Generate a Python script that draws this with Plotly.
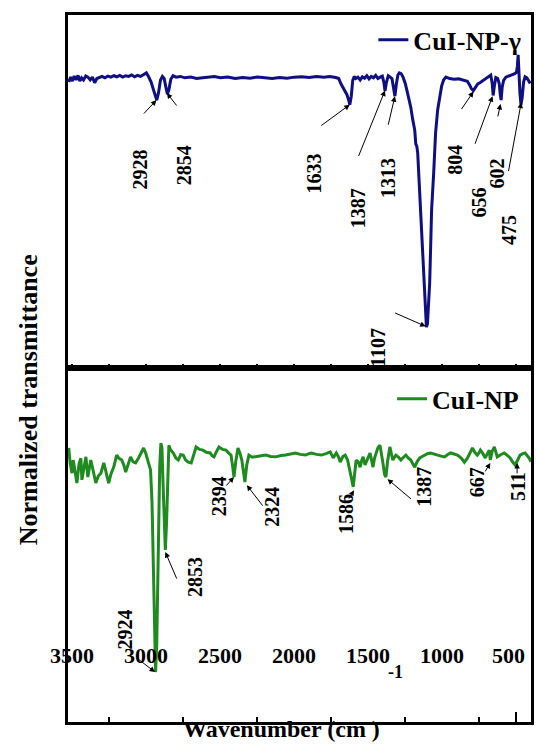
import plotly.graph_objects as go

# ---------------- data ----------------
top_wn = [3525, 3512, 3500, 3488, 3475, 3462, 3450, 3438, 3425, 3410, 3395, 3380, 3365, 3350, 3335, 3320,
          3300, 3280, 3260, 3240, 3220, 3200, 3180, 3160, 3140, 3120, 3100, 3080, 3060, 3040, 3020, 3000,
          2985, 2968, 2950, 2938, 2930, 2918, 2905, 2892, 2880, 2868, 2858, 2848, 2835, 2820, 2800, 2770,
          2740, 2700, 2660, 2620, 2580, 2540, 2500, 2450, 2400, 2350, 2300, 2250, 2200, 2150, 2100, 2050,
          2000, 1950, 1900, 1850, 1800, 1760, 1720, 1700, 1685, 1670, 1656, 1645, 1633, 1625, 1615, 1605,
          1595, 1585, 1570, 1555, 1540, 1525, 1510, 1495, 1480, 1465, 1450, 1435, 1420, 1405, 1395, 1387,
          1378, 1365, 1352, 1340, 1330, 1320, 1310, 1300, 1290, 1278, 1265, 1250, 1238, 1226, 1213, 1200,
          1186, 1179, 1172, 1166, 1159, 1145, 1139, 1132, 1125, 1119, 1113, 1107, 1100, 1092, 1085, 1078,
          1072, 1058, 1045, 1031, 1018, 1004, 991, 975, 950, 920, 890, 860, 830, 815, 804, 790,
          775, 760, 745, 730, 715, 700, 685, 672, 662, 656, 648, 638, 625, 615, 608, 602,
          595, 585, 570, 555, 540, 525, 510, 498, 492, 487, 482, 475, 468, 460, 450, 440,
          428, 415, 405]
top_T = [81.0, 82.4, 81.3, 82.7, 81.6, 82.9, 81.3, 82.2, 81.6, 82.7, 82.4, 81.6, 82.4, 80.8, 82.0, 82.2,
         82.6, 82.2, 82.7, 82.4, 82.8, 82.5, 82.9, 82.4, 82.8, 82.6, 83.0, 82.5, 82.9, 82.6, 83.1, 83.6,
         82.5, 81.0, 78.5, 76.5, 75.9, 78.0, 81.5, 82.6, 82.0, 79.5, 77.6, 78.8, 81.8, 82.8, 82.4, 82.6,
         82.2, 82.4, 82.0, 82.2, 82.5, 82.6, 82.2, 82.4, 82.0, 82.3, 82.1, 82.4, 82.2, 82.0, 82.3, 82.1,
         82.4, 82.5, 82.3, 82.6, 82.4, 82.6, 82.3, 82.0, 80.5, 79.4, 78.6, 77.5, 76.0, 74.6, 77.0, 81.5,
         82.6, 82.0, 82.4, 81.6, 82.5, 82.1, 82.8, 81.9, 82.6, 82.2, 82.9, 82.0, 82.4, 82.7, 81.0, 78.5,
         80.8, 82.8, 82.4, 82.0, 79.5, 77.0, 80.5, 83.0, 83.6, 83.4, 82.4, 80.6, 78.5, 76.5, 73.9, 70.5,
         67.4, 63.5, 62.8, 61.0, 55.0, 45.6, 39.5, 32.6, 26.3, 19.5, 15.0, 11.6, 12.5, 17.8, 24.0, 35.0,
         44.8, 55.2, 66.6, 73.1, 76.8, 79.9, 81.6, 82.4, 82.0, 81.8, 81.9, 81.5, 81.2, 80.2, 79.2, 78.6,
         79.5, 80.5, 80.8, 81.3, 81.7, 82.1, 82.6, 83.0, 80.5, 77.2, 79.8, 82.3, 82.0, 80.6, 77.5, 75.9,
         79.5, 81.5, 82.4, 82.6, 82.9, 83.1, 83.4, 83.8, 85.5, 88.7, 82.4, 78.0, 74.6, 76.5, 81.0, 82.5,
         82.2, 81.4, 80.6]

bot_wn = [3525, 3515, 3503, 3495, 3485, 3470, 3455, 3443, 3436, 3422, 3409, 3396, 3385, 3376, 3360, 3342,
          3325, 3308, 3288, 3270, 3255, 3240, 3221, 3201, 3185, 3167, 3152, 3140, 3125, 3107, 3090, 3073,
          3053, 3035, 3019, 3005, 2986, 2972, 2962, 2952, 2944, 2938, 2930, 2920, 2910, 2902, 2895, 2888,
          2880, 2872, 2864, 2856, 2848, 2838, 2818, 2800, 2784, 2768, 2751, 2735, 2717, 2697, 2680, 2664,
          2640, 2617, 2595, 2569, 2555, 2543, 2525, 2509, 2485, 2462, 2445, 2428, 2418, 2408, 2396, 2381,
          2368, 2355, 2345, 2334, 2322, 2307, 2285, 2260, 2225, 2193, 2160, 2126, 2090, 2059, 2025, 1992,
          1960, 1925, 1900, 1884, 1850, 1817, 1785, 1757, 1737, 1716, 1700, 1690, 1672, 1656, 1640, 1625,
          1612, 1602, 1592, 1582, 1568, 1555, 1545, 1535, 1522, 1505, 1488, 1478, 1468, 1458, 1448, 1435,
          1421, 1410, 1401, 1390, 1381, 1370, 1354, 1345, 1334, 1320, 1313, 1295, 1280, 1262, 1246, 1230,
          1213, 1200, 1186, 1170, 1152, 1135, 1119, 1100, 1078, 1055, 1031, 1008, 984, 965, 944, 920,
          897, 870, 850, 830, 812, 796, 780, 763, 752, 742, 725, 709, 695, 682, 675, 662,
          648, 638, 628, 605, 581, 560, 541, 525, 507, 490, 474, 455, 440, 425, 413, 400]
bot_T = [77.4, 73.0, 70.3, 74.0, 71.5, 67.5, 73.0, 74.5, 68.4, 72.5, 74.9, 69.2, 72.0, 74.0, 71.0, 67.5,
         69.5, 70.3, 73.2, 70.5, 67.5, 70.0, 72.0, 75.4, 74.5, 74.0, 72.5, 70.6, 72.8, 74.9, 73.5, 73.2,
         74.6, 76.0, 77.4, 76.0, 73.4, 71.2, 62.0, 38.0, 18.0, 14.1, 22.0, 52.0, 72.0, 78.8, 77.5, 68.0,
         55.0, 48.6, 56.0, 70.0, 78.2, 77.0, 76.0, 74.5, 74.0, 75.5, 75.4, 74.0, 73.4, 73.2, 75.5, 77.7,
         77.0, 76.8, 76.2, 76.0, 75.2, 74.9, 76.5, 77.7, 77.0, 76.8, 76.0, 75.4, 72.5, 69.2, 73.5, 77.4,
         76.0, 74.0, 71.0, 67.8, 72.5, 75.4, 74.8, 74.9, 75.2, 75.4, 75.0, 74.9, 75.3, 75.4, 75.7, 76.0,
         75.6, 75.4, 75.8, 76.0, 75.6, 75.4, 75.8, 76.3, 74.6, 76.0, 74.8, 73.4, 75.0, 75.4, 74.0, 71.5,
         68.5, 66.4, 70.0, 74.0, 73.5, 72.0, 73.8, 74.9, 72.6, 74.5, 76.0, 74.0, 72.0, 74.5, 76.0, 77.5,
         78.2, 76.0, 73.2, 70.0, 69.2, 73.5, 77.7, 76.0, 74.0, 75.0, 75.4, 74.8, 74.0, 74.8, 75.4, 74.6,
         74.0, 73.0, 72.0, 73.5, 74.6, 75.0, 75.4, 75.8, 76.0, 75.6, 75.4, 75.1, 74.9, 75.5, 76.0, 75.7,
         75.4, 74.5, 73.4, 74.5, 76.0, 77.4, 76.2, 75.4, 76.0, 76.8, 75.8, 74.6, 75.8, 76.8, 74.0, 76.5,
         77.7, 76.5, 74.9, 75.5, 76.0, 75.3, 74.6, 73.5, 72.6, 74.0, 75.4, 75.8, 76.0, 75.2, 74.6, 73.5]

# peak labels: text, arrow head (wavenumber, value), arrow tail offset (px), label centre (wavenumber, value)
top_labels = ["2928", "2854", "1633", "1387", "1313", "1107", "804", "656", "602", "475"]
top_head_wn = [2932, 2862, 1625, 1387, 1320, 1112, 789, 660, 606, 466]
top_head_T = [75.9, 77.9, 74.6, 78.6, 77.0, 11.8, 78.3, 77.0, 74.8, 75.2]
top_tail_dx = [-14, 11, -30, -27, -7, -32, -13, -18, -3, -13]
top_tail_dy = [15, 14, 22, 67, 30, -14, 19, 49, 14, 70]
top_lab_wn = [3046, 2744, 1864, 1569, 1367, 1434, 910, 749, 628, 548]
top_lab_T = [56.1, 57.5, 55.2, 45.3, 53.8, 5.7, 58.9, 47.0, 55.2, 39.1]

bot_labels = ["2924", "2853", "2394", "2324", "1586", "1387", "667", "511"]
bot_head_wn = [2942, 2872, 2408, 2321, 1596, 1370, 675, 494]
bot_head_T = [14.1, 48.0, 69.2, 66.9, 65.5, 68.6, 73.2, 73.2]
bot_tail_dx = [-18, 12, -9, 17, -6, 25, -6, 0]
bot_tail_dy = [-14, 28, 10, 22, 10, 21, 10, 12]
bot_lab_wn = [3147, 2670, 2509, 2153, 1649, 1125, 763, 487]
bot_lab_T = [26.0, 41.0, 63.8, 60.7, 58.8, 66.4, 67.8, 66.4]

tick_vals = [3500, 3000, 2500, 2000, 1500, 1000, 500]
tick_text = ["3500", "3000", "2500", "2000", "1500", "1000", "500"]

# ---------------- figure ----------------
FONT = "Liberation Serif"
NAVY = "#0f0f80"
GREEN = "#1f8a1f"
XR = [3530, 400]

fig = go.Figure()
fig.add_trace(go.Scatter(x=top_wn, y=top_T, mode="lines", name="CuI-NP-γ",
                         line=dict(color=NAVY, width=3), xaxis="x", yaxis="y", legend="legend"))
fig.add_trace(go.Scatter(x=bot_wn, y=bot_T, mode="lines", name="CuI-NP",
                         line=dict(color=GREEN, width=3), xaxis="x2", yaxis="y2", legend="legend2"))

frame = dict(showline=True, linewidth=2.5, linecolor="black", mirror=True,
             showgrid=False, zeroline=False)
split = 0.5007

fig.update_layout(
    width=536, height=744,
    margin=dict(l=68, r=2, t=15, b=22),
    paper_bgcolor="white", plot_bgcolor="white",
    font=dict(family=FONT, color="black"),
    xaxis=dict(domain=[0, 1], anchor="y", range=XR, showticklabels=False,
               ticks="inside", tickvals=list(range(500, 3501, 250)), ticklen=4,
               tickwidth=1.5, tickcolor="black", **frame),
    yaxis=dict(domain=[split, 1], anchor="x", range=[0, 100], showticklabels=False,
               ticks="", **frame),
    xaxis2=dict(domain=[0, 1], anchor="y2", range=XR, showticklabels=False,
                ticks="inside", tickvals=[500], ticklen=10, tickwidth=2, tickcolor="black",
                minor=dict(tickvals=[3250, 2750, 2250, 1750, 1250, 750], ticks="inside",
                           ticklen=5, tickwidth=1.5, tickcolor="black"),
                **frame),
    yaxis2=dict(domain=[0, split], anchor="x2", range=[0, 100], showticklabels=False,
                ticks="", **frame),
    legend=dict(x=0.99, y=0.965, xanchor="right", yanchor="middle",
                bgcolor="rgba(0,0,0,0)", font=dict(family=FONT, size=26, weight="bold"),
                itemwidth=30),
    legend2=dict(x=0.985, y=0.457, xanchor="right", yanchor="middle",
                 bgcolor="rgba(0,0,0,0)", font=dict(family=FONT, size=26, weight="bold"),
                 itemwidth=30),
    showlegend=True,
)

ann = []
def add_peaks(labels, hwn, hT, dx, dy, lwn, lT, xr, yr):
    for i, t in enumerate(labels):
        ann.append(dict(x=hwn[i], y=hT[i], xref=xr, yref=yr, ax=dx[i], ay=dy[i],
                        text="", showarrow=True, arrowhead=2, arrowsize=1.1,
                        arrowwidth=1, arrowcolor="black", standoff=0, startstandoff=0))
        ann.append(dict(x=lwn[i], y=lT[i], xref=xr, yref=yr, text="<b>%s</b>" % t,
                        showarrow=False, textangle=-90, xanchor="center", yanchor="middle",
                        font=dict(family=FONT, size=20, color="black")))

add_peaks(top_labels, top_head_wn, top_head_T, top_tail_dx, top_tail_dy,
          top_lab_wn, top_lab_T, "x", "y")
add_peaks(bot_labels, bot_head_wn, bot_head_T, bot_tail_dx, bot_tail_dy,
          bot_lab_wn, bot_lab_T, "x2", "y2")

for v, t in zip(tick_vals, tick_text):
    ann.append(dict(x=v, y=18.9, xref="x2", yref="y2", text="<b>%s</b>" % t, showarrow=False,
                    xanchor="center", yanchor="middle", xshift=-8 if v == 500 else 0,
                    font=dict(family=FONT, size=22)))

ann.append(dict(x=1313, y=14.1, xref="x2", yref="y2", text="<b>-1</b>", showarrow=False,
                xanchor="center", yanchor="middle", font=dict(family=FONT, size=18)))
ann.append(dict(x=0.461, y=-0.0092, xref="paper", yref="paper", text="<b>Wavenumber (cm )</b>",
                showarrow=False, xanchor="center", yanchor="middle", font=dict(family=FONT, size=24)))
ann.append(dict(x=-0.0858, y=0.4554, xref="paper", yref="paper", text="<b>Normalized transmittance</b>",
                showarrow=False, textangle=-90, xanchor="center", yanchor="middle",
                font=dict(family=FONT, size=26)))

fig.update_layout(annotations=ann)
fig.write_html("out.html", config={"displayModeBar": False},
               post_script="document.body.style.margin='0';document.body.style.padding='0';")
